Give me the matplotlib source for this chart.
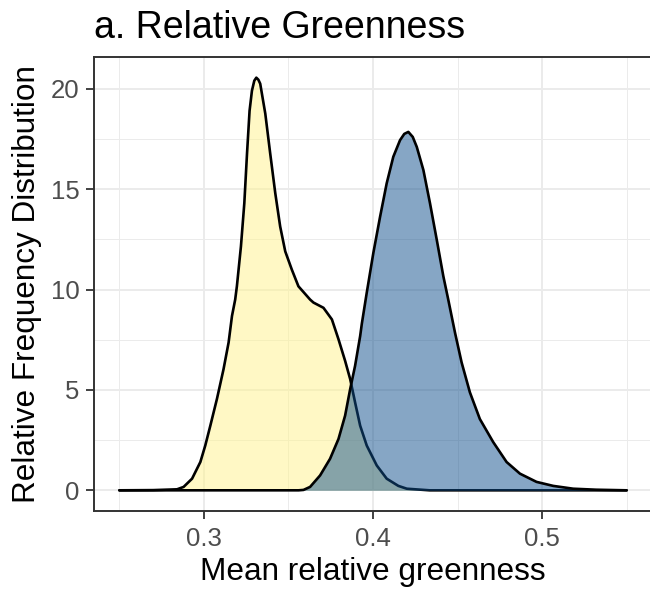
import matplotlib.pyplot as plt

plt.rcParams['font.family'] = ['Liberation Sans', 'DejaVu Sans']

# density curves (x = mean relative greenness, y = density)
yellow_x = [0.250, 0.270, 0.2841, 0.288, 0.293, 0.2979, 0.3008, 0.3038, 0.3077,
            0.3116, 0.3146, 0.3166, 0.3185, 0.3195, 0.3219, 0.3239, 0.3255, 0.3270,
            0.3284, 0.3298, 0.3310, 0.3322, 0.3333, 0.3363, 0.3392, 0.3422, 0.3451,
            0.3481, 0.3520, 0.3559, 0.3628, 0.3648, 0.3707, 0.3757, 0.3796, 0.3835,
            0.3865, 0.3894, 0.3924, 0.3963, 0.4022, 0.4081, 0.4150, 0.4200, 0.4335,
            0.550]
yellow_y = [0.0, 0.01, 0.05, 0.17, 0.58, 1.41, 2.23, 3.22, 4.55,
            6.03, 7.36, 8.68, 9.5, 10.16, 12.15, 14.3, 16.78, 18.9,
            19.9, 20.4, 20.55, 20.45, 20.25, 18.76, 16.78, 14.8, 13.14,
            11.9, 10.99, 10.16, 9.5, 9.35, 9.09, 8.51, 7.52, 6.45,
            5.54, 4.38, 3.22, 2.23, 1.24, 0.58, 0.22, 0.08, 0.0,
            0.0]

blue_x = [0.250, 0.3560, 0.3589, 0.3628, 0.3687, 0.3746, 0.3796, 0.3835, 0.3865,
          0.3894, 0.3924, 0.3934, 0.3963, 0.4002, 0.4042, 0.4081, 0.4120, 0.4160,
          0.4185, 0.4209, 0.4235, 0.4259, 0.4298, 0.4337, 0.4377, 0.4416, 0.4445,
          0.4485, 0.4524, 0.4573, 0.4632, 0.4711, 0.4790, 0.4869, 0.4967, 0.5066,
          0.5184, 0.5320, 0.550]
blue_y = [0.0, 0.0, 0.02, 0.17, 0.74, 1.57, 2.56, 3.72, 5.04,
          6.2, 7.68, 8.3, 9.84, 11.82, 13.63, 15.29, 16.61, 17.44,
          17.75, 17.85, 17.6, 17.1, 15.95, 14.3, 12.48, 10.66, 9.5,
          7.85, 6.37, 4.88, 3.55, 2.4, 1.41, 0.83, 0.42, 0.22,
          0.08, 0.03, 0.0]

x_ticks = [0.3, 0.4, 0.5]
x_minor = [0.25, 0.35, 0.45, 0.55]
y_ticks = [0, 5, 10, 15, 20]
y_minor = [2.5, 7.5, 12.5, 17.5]

fig = plt.figure(figsize=(6.5, 5.92), dpi=100)
ax = fig.add_axes([94/650, 81/592, 558/650, 454/592])

# ggplot-like grid
for v in x_minor:
    ax.axvline(v, color='#EBEBEB', lw=0.7, zorder=0)
for v in y_minor:
    ax.axhline(v, color='#EBEBEB', lw=0.7, zorder=0)
for v in x_ticks:
    ax.axvline(v, color='#EBEBEB', lw=1.4, zorder=0)
for v in y_ticks:
    ax.axhline(v, color='#EBEBEB', lw=1.4, zorder=0)

ax.fill_between(yellow_x, yellow_y, color='#FFF38D', alpha=0.5, lw=0, zorder=2)
ax.plot(yellow_x, yellow_y, color='black', lw=1.9, zorder=2,
        solid_joinstyle='round', solid_capstyle='round')
ax.fill_between(blue_x, blue_y, color='#0F4F8D', alpha=0.5, lw=0, zorder=3)
ax.plot(blue_x, blue_y, color='black', lw=1.9, zorder=3,
        solid_joinstyle='round', solid_capstyle='round')

ax.set_xlim(0.235, 0.565)
ax.set_ylim(-1.03, 21.58)
ax.set_xticks(x_ticks)
ax.set_xticklabels(['0.3', '0.4', '0.5'])
ax.set_yticks(y_ticks)
ax.tick_params(colors='#333333', labelcolor='#4D4D4D', labelsize=18.5,
               length=5.5, width=1.3)
ax.tick_params(axis='y', pad=5)
ax.tick_params(axis='x', pad=6)
for s in ax.spines.values():
    s.set_color('#333333')
    s.set_linewidth(1.4)

ax.set_xlabel('Mean relative greenness', fontsize=22.7, labelpad=4)
ax.set_ylabel('Relative Frequency Distribution', fontsize=22.7, labelpad=6)
ax.set_title('a. Relative Greenness', fontsize=27, loc='left', pad=14)

fig.savefig('out.png', dpi=100)
